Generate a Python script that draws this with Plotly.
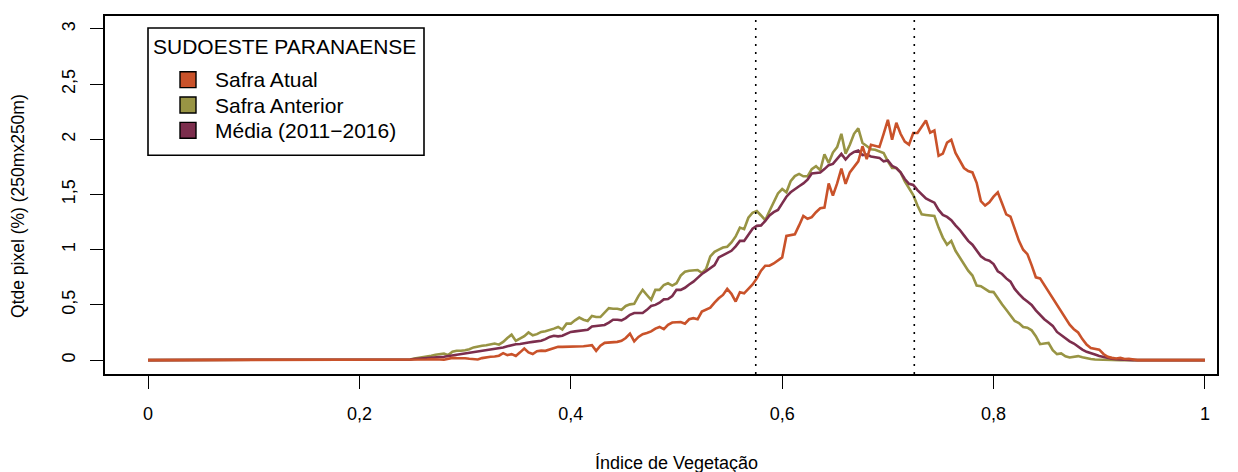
import plotly.graph_objects as go

# ---------------- data ----------------
X_STEP = 0.004
N_POINTS = 251          # 0.000 .. 1.000
START_IDX = 60          # first listed value is at x = 0.240

safra_atual = [
    0.0, 0.0, 0.002, 0.003, 0.004, 0.005, 0.006, 0.008, 0.01, 0.006,
    0.004, 0.012, 0.02, 0.018, 0.02, 0.016, 0.012, 0.008, 0.006, 0.018,
    0.027, 0.03, 0.032, 0.04, 0.063, 0.045, 0.054, 0.038, 0.07, 0.105,
    0.07, 0.055, 0.08, 0.086, 0.084, 0.096, 0.115, 0.12, 0.12, 0.12,
    0.124, 0.126, 0.12, 0.125, 0.13, 0.135, 0.084, 0.13, 0.156, 0.16,
    0.16, 0.165, 0.175, 0.2, 0.24, 0.17, 0.21, 0.235, 0.245, 0.26,
    0.285, 0.3, 0.28, 0.32, 0.34, 0.342, 0.345, 0.33, 0.37, 0.38,
    0.37, 0.44, 0.46, 0.475, 0.52, 0.56, 0.59, 0.645, 0.60, 0.53,
    0.615, 0.605, 0.645, 0.685, 0.74, 0.81, 0.855, 0.855, 0.875, 0.905,
    0.93, 1.125, 1.13, 1.14, 1.22, 1.306, 1.28, 1.295, 1.34, 1.375,
    1.381, 1.6, 1.49, 1.6, 1.735, 1.597, 1.70, 1.75, 1.80, 1.937,
    1.82, 1.95, 1.94, 1.93, 2.05, 2.177, 1.996, 2.15, 2.05, 1.98,
    1.952, 2.057, 2.057, 2.12, 2.17, 2.06, 2.08, 1.85, 1.87, 1.97,
    1.996, 1.876, 1.81, 1.74, 1.712, 1.70, 1.606, 1.44, 1.40, 1.43,
    1.48, 1.52, 1.42, 1.32, 1.30, 1.18, 1.08, 1.0, 0.96, 0.86,
    0.75, 0.74, 0.68, 0.62, 0.56, 0.50, 0.44, 0.38, 0.32, 0.28,
    0.25, 0.19, 0.14, 0.11, 0.105, 0.095, 0.055, 0.03, 0.02, 0.015,
    0.02, 0.01, 0.012, 0.005, 0.0,
]

safra_anterior = [
    0.0, 0.003, 0.006, 0.015, 0.02, 0.028, 0.035, 0.04, 0.048, 0.055,
    0.06, 0.045, 0.075, 0.085, 0.084, 0.09, 0.098, 0.115, 0.126, 0.13,
    0.135, 0.14, 0.15, 0.14, 0.165, 0.20, 0.23, 0.174, 0.195, 0.216,
    0.25, 0.225, 0.235, 0.255, 0.262, 0.27, 0.285, 0.30, 0.276, 0.33,
    0.33, 0.36, 0.385, 0.366, 0.355, 0.40, 0.39, 0.39, 0.426, 0.47,
    0.465, 0.465, 0.456, 0.49, 0.505, 0.51, 0.58, 0.636, 0.59, 0.546,
    0.636, 0.636, 0.68, 0.696, 0.675, 0.696, 0.765, 0.80, 0.81, 0.81,
    0.816, 0.79, 0.826, 0.94, 0.98, 1.0, 1.02, 1.027, 1.066, 1.12,
    1.20, 1.186, 1.29, 1.335, 1.35, 1.31, 1.267, 1.35, 1.43, 1.51,
    1.55, 1.52, 1.62, 1.667, 1.687, 1.665, 1.665, 1.73, 1.757, 1.72,
    1.865, 1.785, 1.88, 1.93, 2.05, 1.87, 1.95, 2.05, 2.10, 1.966,
    1.94, 1.91, 1.906, 1.89, 1.876, 1.80, 1.74, 1.74, 1.70, 1.62,
    1.555, 1.495, 1.40, 1.32, 1.315, 1.312, 1.306, 1.20, 1.11, 1.045,
    1.08, 0.99, 0.93, 0.87, 0.81, 0.766, 0.676, 0.67, 0.645, 0.62,
    0.616, 0.556, 0.505, 0.456, 0.405, 0.354, 0.335, 0.30, 0.294, 0.27,
    0.216, 0.144, 0.15, 0.156, 0.09, 0.054, 0.06, 0.035, 0.024, 0.03,
    0.036, 0.025, 0.015, 0.01, 0.006, 0.004, 0.002, 0.0,
]

media_2011_2016 = [
    0.0, 0.003, 0.006, 0.01, 0.014, 0.018, 0.022, 0.024, 0.026, 0.028,
    0.03, 0.036, 0.042, 0.047, 0.05, 0.058, 0.065, 0.07, 0.076, 0.083,
    0.09, 0.096, 0.10, 0.104, 0.114, 0.125, 0.138, 0.144, 0.146, 0.156,
    0.16, 0.165, 0.168, 0.175, 0.19, 0.21, 0.22, 0.215, 0.22, 0.24,
    0.255, 0.26, 0.265, 0.268, 0.275, 0.305, 0.31, 0.312, 0.318, 0.34,
    0.366, 0.365, 0.36, 0.38, 0.41, 0.426, 0.425, 0.426, 0.455, 0.49,
    0.50, 0.52, 0.55, 0.553, 0.58, 0.636, 0.636, 0.655, 0.685, 0.71,
    0.745, 0.78, 0.805, 0.835, 0.86, 0.93, 0.95, 0.97, 0.99, 1.03,
    1.08, 1.08, 1.14, 1.19, 1.216, 1.22, 1.26, 1.31, 1.34, 1.36,
    1.42, 1.48, 1.52, 1.55, 1.575, 1.60, 1.635, 1.69, 1.695, 1.70,
    1.73, 1.766, 1.777, 1.82, 1.868, 1.817, 1.86, 1.885, 1.898, 1.856,
    1.862, 1.845, 1.835, 1.832, 1.80, 1.808, 1.76, 1.74, 1.70, 1.64,
    1.597, 1.586, 1.54, 1.50, 1.465, 1.445, 1.426, 1.36, 1.315, 1.297,
    1.267, 1.22, 1.18, 1.13, 1.08, 1.045, 0.99, 0.94, 0.912, 0.90,
    0.87, 0.805, 0.78, 0.74, 0.71, 0.645, 0.60, 0.56, 0.53, 0.50,
    0.45, 0.405, 0.37, 0.34, 0.31, 0.255, 0.225, 0.195, 0.17, 0.15,
    0.12, 0.095, 0.075, 0.06, 0.05, 0.038, 0.028, 0.017, 0.012, 0.008,
    0.005, 0.003, 0.0,
]

series_names = ["Safra Atual", "Safra Anterior", "Média (2011−2016)"]
series_colors = ["#C9522A", "#989444", "#7C2E4D"]
ref_lines = [0.575, 0.725]

x_tick_vals = [0, 0.2, 0.4, 0.6, 0.8, 1]
x_tick_text = ["0", "0,2", "0,4", "0,6", "0,8", "1"]
y_tick_vals = [0, 0.5, 1, 1.5, 2, 2.5, 3]
y_tick_text = ["0", "0,5", "1", "1,5", "2", "2,5", "3"]

legend_title = "SUDOESTE PARANAENSE"
x_title = "Índice de Vegetação"
y_title = "Qtde pixel (%) (250mx250m)"

# ---------------- build ----------------
x_grid = [round(i * X_STEP, 3) for i in range(N_POINTS)]


def full_series(vals):
    return [0.0] * START_IDX + vals + [0.0] * (N_POINTS - START_IDX - len(vals))


FONT = "Liberation Sans, Arial, sans-serif"
W, H = 1238, 472
OFF = 8  # page body margin
# plot area in page pixels
PL, PR, PT, PB = 105, 1217, 14, 374
ML, MT = PL - OFF, PT - OFF
MR = W - (PR - OFF)
MB = H - (PB - OFF)
PW, PH = PR - PL, PB - PT


def px2paper(px, py):
    return (px - PL) / PW, (PB - py) / PH


fig = go.Figure()
order = [1, 2, 0]
data_lists = [safra_atual, safra_anterior, media_2011_2016]
for k in order:
    fig.add_trace(go.Scatter(
        x=x_grid, y=full_series(data_lists[k]), mode="lines",
        name=series_names[k], line=dict(color=series_colors[k], width=2.6),
        showlegend=False, hoverinfo="skip"))

for xv in ref_lines:
    fig.add_shape(type="line", xref="x", yref="paper", x0=xv, x1=xv, y0=0, y1=1,
                  line=dict(color="black", width=1.6, dash="2px,6px"))

# legend box (drawn manually, R style)
bx0, by0 = px2paper(148, 154)
bx1, by1 = px2paper(424, 26)
fig.add_shape(type="rect", xref="paper", yref="paper", x0=bx0, x1=bx1, y0=by0, y1=by1,
              line=dict(color="black", width=1.6), fillcolor="white", layer="above")
tx, ty = px2paper(151, 45)
fig.add_annotation(xref="paper", yref="paper", x=tx, y=ty, text=legend_title,
                   showarrow=False, xanchor="left", yanchor="middle",
                   font=dict(family=FONT, size=21, color="black"))
entry_y = [78, 103.5, 129]
for name, col, ey in zip(series_names, series_colors, entry_y):
    sx0, sy0 = px2paper(180, ey + 8)
    sx1, sy1 = px2paper(196, ey - 8)
    fig.add_shape(type="rect", xref="paper", yref="paper", x0=sx0, x1=sx1, y0=sy0, y1=sy1,
                  line=dict(color="black", width=1.4), fillcolor=col, layer="above")
    lx, ly = px2paper(213, ey)
    fig.add_annotation(xref="paper", yref="paper", x=lx, y=ly, text=name,
                       showarrow=False, xanchor="left", yanchor="middle",
                       font=dict(family=FONT, size=21, color="black"))

# axis titles
ax, ay = px2paper(676, 463)
fig.add_annotation(xref="paper", yref="paper", x=ax, y=ay, text=x_title, showarrow=False,
                   xanchor="center", yanchor="middle",
                   font=dict(family=FONT, size=18, color="black"))
yx, yy = px2paper(18, 205)
fig.add_annotation(xref="paper", yref="paper", x=yx, y=yy, text=y_title, showarrow=False,
                   textangle=-90, xanchor="center", yanchor="middle",
                   font=dict(family=FONT, size=17.5, color="black"))

axis_common = dict(showgrid=False, zeroline=False, showline=True, mirror=True,
                   linecolor="black", linewidth=1.6, ticks="outside", ticklen=13,
                   tickwidth=1.3, tickcolor="black",
                   tickfont=dict(family=FONT, size=18, color="black"))

fig.update_layout(
    width=W, height=H,
    margin=dict(l=ML, r=MR, t=MT, b=MB, pad=0),
    plot_bgcolor="white", paper_bgcolor="white",
    xaxis=dict(range=[-0.0407, 1.0114], tickvals=x_tick_vals, ticktext=x_tick_text,
               ticklabelstandoff=10, **axis_common),
    yaxis=dict(range=[-0.126, 3.117], tickvals=y_tick_vals, ticktext=y_tick_text,
               tickangle=-90, ticklabelstandoff=8, **axis_common),
)

fig.write_html("out.html")
